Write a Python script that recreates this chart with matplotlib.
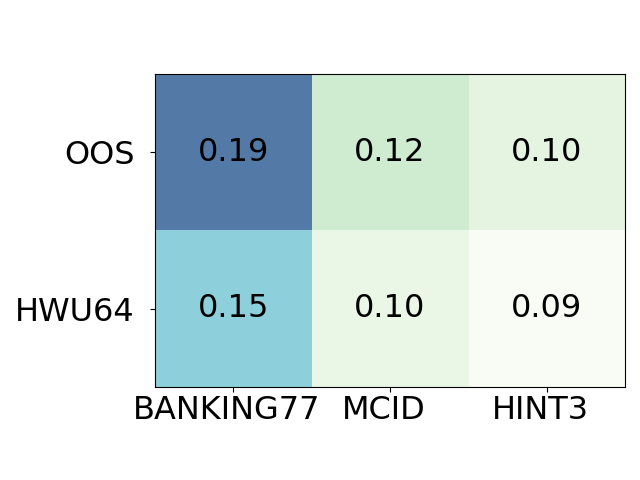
import numpy as np
import matplotlib
matplotlib.use("Agg")
import matplotlib.pyplot as plt
import matplotlib.transforms as mtransforms

# row / column labels
rows = ["OOS", "HWU64"]
cols = ["BANKING77", "MCID", "HINT3"]

# cell values
oos = [0.193, 0.119, 0.103]
hwu64 = [0.148, 0.098, 0.086]

data = np.array([oos, hwu64])

fig, ax = plt.subplots(figsize=(6.4, 4.8), dpi=100)
ax.imshow(data, cmap="GnBu", alpha=0.7)

ax.set_xticks(range(len(cols)))
ax.set_xticklabels(cols, fontsize=23)
ax.set_yticks(range(len(rows)))
ax.set_yticklabels(rows, fontsize=23)
ax.tick_params(axis="y", pad=11)
ax.tick_params(axis="x", pad=2)

# labels sit a little left of their ticks in the original
shift = mtransforms.ScaledTranslation(-0.065, 0, fig.dpi_scale_trans)
for lbl in ax.get_xticklabels():
    lbl.set_transform(lbl.get_transform() + shift)

for i in range(len(rows)):
    for j in range(len(cols)):
        ax.text(j, i, f"{data[i, j]:.2f}", ha="center", va="center",
                fontsize=23, color="black")

plt.tight_layout()
plt.savefig("out.png")
